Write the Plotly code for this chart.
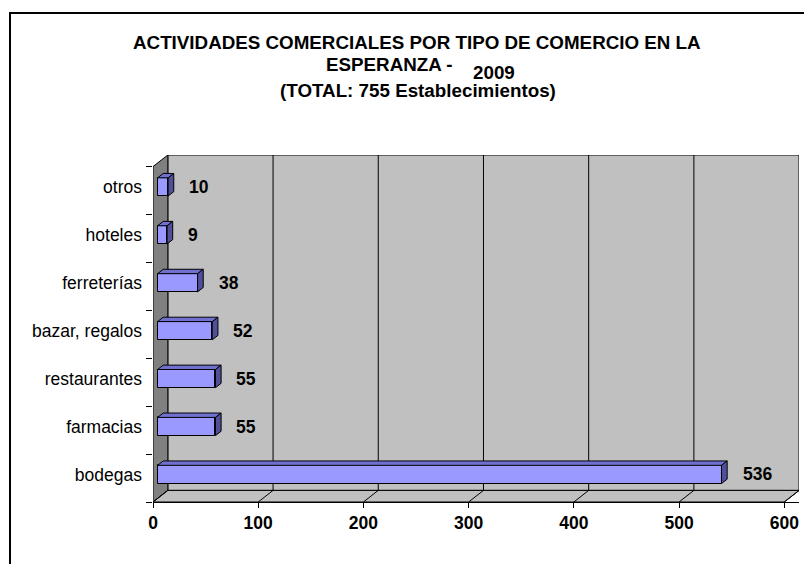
import plotly.graph_objects as go

categorias = ["bodegas", "farmacias", "restaurantes", "bazar, regalos", "ferreterías", "hoteles", "otros"]
valores = [536, 55, 55, 52, 38, 9, 10]
ticks_x = [0, 100, 200, 300, 400, 500, 600]

titulo_1 = "ACTIVIDADES COMERCIALES POR TIPO DE COMERCIO EN LA"
titulo_2 = "ESPERANZA -"
titulo_anio = "2009"
titulo_3 = "(TOTAL: 755 Establecimientos)"

W, H = 804, 564
L, R, T, B = 153, 5, 155, 62
XMAX = 614.0
YMIN, YMAX = -0.5, 6.742
DX, DY = 14.1, 0.242          # profundidad del "3D" en unidades de datos
F0, F1 = 0.31, 0.69           # posicion de la barra dentro de la profundidad
MEDIA = 0.19                  # media altura de la barra

font = "Liberation Sans, Arial, sans-serif"

def px_y(py):
    return 1 + (T - py) / (H - T - B)

def px_x(px):
    return (px - L) / (W - L - R)

n = len(categorias)
ys = list(range(n))
bx0, by0 = F0 * DX, F0 * DY
tdx, tdy = (F1 - F0) * DX, (F1 - F0) * DY

fig = go.Figure()

# cara frontal
fig.add_trace(go.Bar(
    x=valores, y=[y + by0 for y in ys], base=bx0, orientation="h", width=2 * MEDIA,
    marker=dict(color="#9999FF", line=dict(color="black", width=1)),
    hoverinfo="skip", showlegend=False))

# caras superior y lateral
top_x, top_y, side_x, side_y = [], [], [], []
for y, v in zip(ys, valores):
    yt = y + by0 + MEDIA
    yb = y + by0 - MEDIA
    x1 = bx0 + v
    top_x += [bx0, x1, x1 + tdx, bx0 + tdx, bx0, None]
    top_y += [yt, yt, yt + tdy, yt + tdy, yt, None]
    side_x += [x1, x1, x1 + tdx, x1 + tdx, x1, None]
    side_y += [yb, yt, yt + tdy, yb + tdy, yb, None]

fig.add_trace(go.Scatter(x=top_x, y=top_y, fill="toself", fillcolor="#7070D0", mode="lines",
                         line=dict(color="black", width=1), hoverinfo="skip", showlegend=False))
fig.add_trace(go.Scatter(x=side_x, y=side_y, fill="toself", fillcolor="#50509A", mode="lines",
                         line=dict(color="black", width=1), hoverinfo="skip", showlegend=False))

shapes = []
# pared del fondo
shapes.append(dict(type="rect", xref="x", yref="y", x0=DX, x1=XMAX, y0=YMIN + DY, y1=YMAX,
                   fillcolor="#C0C0C0", line=dict(color="black", width=1), layer="below"))
# pared izquierda
shapes.append(dict(type="path", xref="x", yref="y",
                   path=f"M 0,{YMIN} L {DX},{YMIN + DY} L {DX},{YMAX} L 0,{YMAX - DY} Z",
                   fillcolor="#808080", line=dict(color="black", width=1), layer="below"))
# piso
shapes.append(dict(type="path", xref="x", yref="y",
                   path=f"M 0,{YMIN} L {ticks_x[-1]},{YMIN} L {ticks_x[-1] + DX},{YMIN + DY} L {DX},{YMIN + DY} Z",
                   fillcolor="#C0C0C0", line=dict(color="black", width=1), layer="below"))
# lineas de division
for t in ticks_x:
    if 0 < t < ticks_x[-1]:
        shapes.append(dict(type="line", xref="x", yref="y", x0=t + DX, x1=t + DX, y0=YMIN + DY, y1=YMAX,
                           line=dict(color="black", width=1), layer="below"))
    shapes.append(dict(type="line", xref="x", yref="y", x0=t, x1=t + DX, y0=YMIN, y1=YMIN + DY,
                       line=dict(color="black", width=1), layer="below"))
# marco exterior
shapes.append(dict(type="rect", xref="paper", yref="paper", x0=px_x(10), x1=px_x(830),
                   y0=px_y(600), y1=px_y(13), line=dict(color="black", width=2)))

annotations = []
for y, v in zip(ys, valores):
    annotations.append(dict(x=bx0 + v, y=y + by0, xref="x", yref="y", text=str(v), showarrow=False,
                            xanchor="left", yanchor="middle", xshift=19,
                            font=dict(family=font, size=17.5, color="black", weight="bold")))

tfont = dict(family=font, size=18.8, color="black", weight="bold")
annotations += [
    dict(x=px_x(417), y=px_y(42), xref="paper", yref="paper", text=titulo_1, showarrow=False,
         xanchor="center", yanchor="middle", font=tfont),
    dict(x=px_x(455), y=px_y(64), xref="paper", yref="paper", text=titulo_2, showarrow=False,
         xanchor="right", yanchor="middle", font=tfont),
    dict(x=px_x(471), y=px_y(72), xref="paper", yref="paper", text=titulo_anio, showarrow=False,
         xanchor="left", yanchor="middle", font=tfont),
    dict(x=px_x(418), y=px_y(90), xref="paper", yref="paper", text=titulo_3, showarrow=False,
         xanchor="center", yanchor="middle", font=tfont),
]

fig.update_layout(
    width=W, height=H, autosize=False,
    margin=dict(l=L, r=R, t=T, b=B),
    paper_bgcolor="white", plot_bgcolor="white",
    shapes=shapes, annotations=annotations, bargap=0,
    xaxis=dict(range=[0, XMAX], tickvals=ticks_x, showgrid=False, zeroline=False,
               showline=True, linecolor="black", linewidth=1,
               ticks="outside", ticklen=5, tickcolor="black",
               tickfont=dict(family=font, size=17.5, color="black", weight="bold")),
    yaxis=dict(range=[YMIN, YMAX], tickvals=[y + by0 for y in ys], ticktext=categorias,
               showgrid=False, zeroline=False, showline=False, ticks="",
               ticklabelstandoff=10,
               minor=dict(tickvals=[y - 0.5 for y in range(n + 1)], ticks="outside", ticklen=6,
                          tickcolor="black", showgrid=False),
               tickfont=dict(family=font, size=17.5, color="black")),
)

fig.write_html("out.html", config={"displayModeBar": False},
               post_script="document.body.style.margin='0';")
